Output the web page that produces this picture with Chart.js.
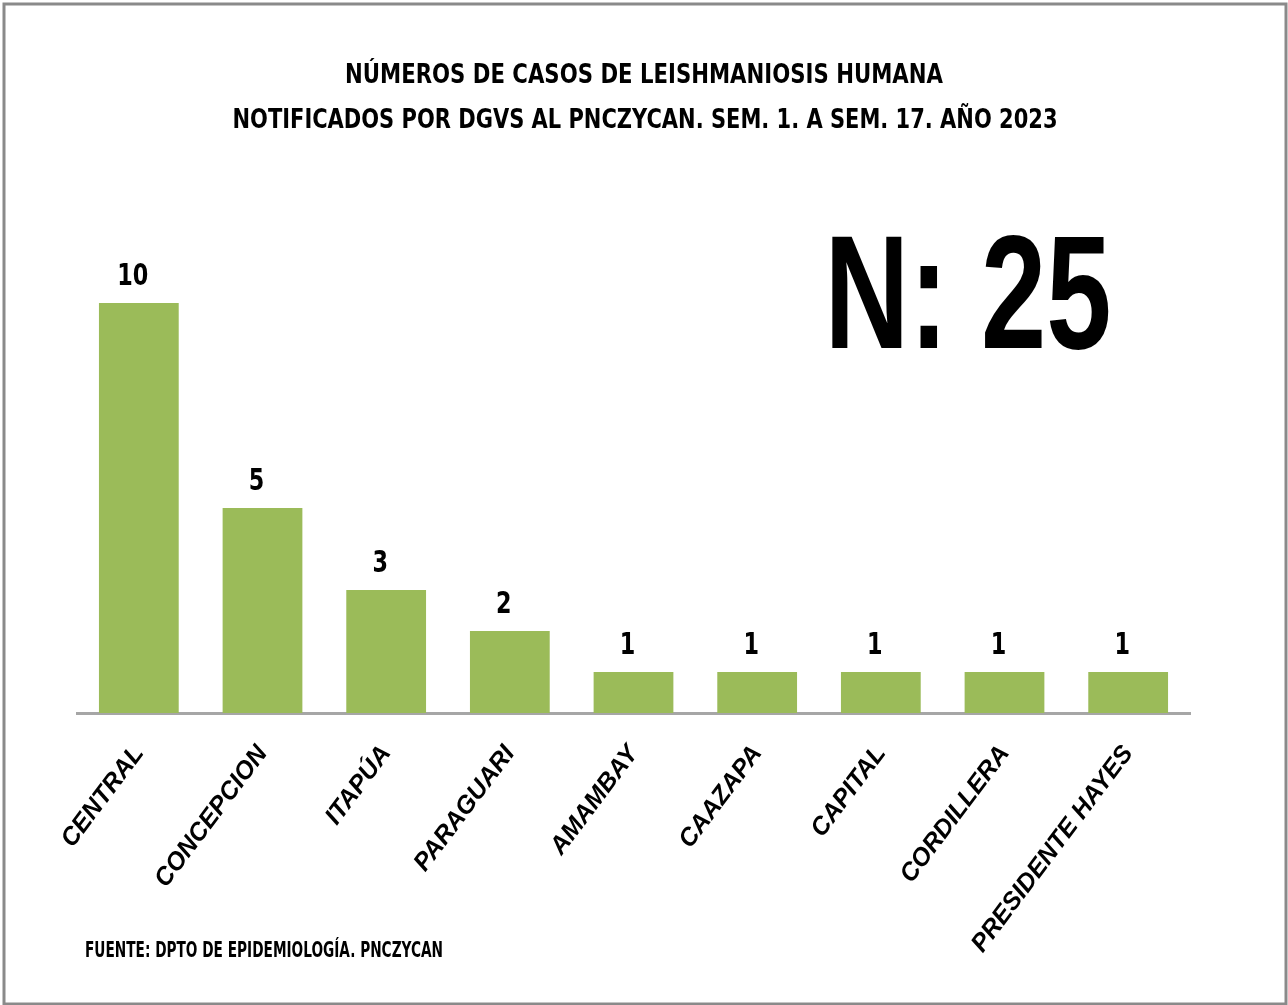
<!DOCTYPE html>
<html>
<head>
<meta charset="utf-8">
<script src="https://cdn.jsdelivr.net/npm/chart.js@4.4.0/dist/chart.umd.min.js"></script>
<style>
  html, body { margin: 0; padding: 0; background: #fff; }
  #wrap { width: 1288px; height: 1005px; position: relative; }
</style>
</head>
<body>
<div id="wrap"><canvas id="myChart" width="1288" height="1005"></canvas></div>
<script>
const categories = ['CENTRAL', 'CONCEPCION', 'ITAPÚA', 'PARAGUARI', 'AMAMBAY', 'CAAZAPA', 'CAPITAL', 'CORDILLERA', 'PRESIDENTE HAYES'];
const casos = [10, 5, 3, 2, 1, 1, 1, 1, 1];
const titleLines = ['NÚMEROS DE CASOS DE LEISHMANIOSIS HUMANA', 'NOTIFICADOS POR DGVS AL PNCZYCAN. SEM. 1. A SEM. 17. AÑO 2023'];
const totalText = 'N: 25';
const sourceText = 'FUENTE: DPTO DE EPIDEMIOLOGÍA. PNCZYCAN';

const condensed = '"DejaVu Sans Condensed", "Open Sans", sans-serif';
const arial = '"Liberation Sans", Arial, sans-serif';

// draw text squeezed horizontally so it fills a given width
function fitText(ctx, text, x, y, width, font, align) {
    ctx.save();
    ctx.font = font;
    const w = ctx.measureText(text).width;
    ctx.translate(x, y);
    ctx.scale(width / w, 1);
    ctx.textAlign = align || 'center';
    ctx.textBaseline = 'alphabetic';
    ctx.fillText(text, 0, 0);
    ctx.restore();
}

const decorPlugin = {
    id: 'decor',
    beforeDraw(chart) {
        const ctx = chart.ctx;
        ctx.save();
        ctx.fillStyle = '#fff';
        ctx.fillRect(0, 0, chart.width, chart.height);
        ctx.strokeStyle = '#8a8a8a';
        ctx.lineWidth = 3;
        ctx.strokeRect(4, 4, chart.width - 6, chart.height - 5);
        ctx.restore();
    },
    afterDraw(chart) {
        const ctx = chart.ctx;
        ctx.save();
        ctx.fillStyle = '#000';
        fitText(ctx, titleLines[0], 644, 83, 598, 'bold 27px ' + condensed);
        fitText(ctx, titleLines[1], 645, 128, 825, 'bold 27px ' + condensed);
        fitText(ctx, totalText, 968, 348, 287, 'bold 161px ' + arial);
        fitText(ctx, sourceText, 85, 957, 358, 'bold 22px ' + condensed, 'left');
        ctx.restore();

        // value labels above bars
        const meta = chart.getDatasetMeta(0);
        ctx.save();
        ctx.fillStyle = '#000';
        ctx.font = 'bold 31px ' + condensed;
        ctx.textAlign = 'center';
        ctx.textBaseline = 'alphabetic';
        meta.data.forEach((bar, i) => {
            ctx.save();
            ctx.translate(bar.x - 6, bar.y - 18);
            ctx.scale(0.8, 1);
            ctx.fillText(String(casos[i]), 0, 0);
            ctx.restore();
        });
        ctx.restore();
    }
};

new Chart(document.getElementById('myChart'), {
    type: 'bar',
    data: {
        labels: categories,
        datasets: [{
            data: casos,
            backgroundColor: '#9BBB59',
            borderWidth: 0,
            categoryPercentage: 1,
            barPercentage: 0.645
        }]
    },
    options: {
        responsive: false,
        animation: false,
        layout: { padding: { left: 77, right: 98, top: 303, bottom: 0 } },
        scales: {
            x: {
                grid: { display: false },
                border: { display: true, color: '#a6a6a6', width: 3 },
                ticks: {
                    color: '#000',
                    font: { family: arial, size: 25, weight: 'bold', style: 'italic' },
                    maxRotation: 53,
                    minRotation: 53,
                    padding: 19
                },
                afterFit(scale) { scale.height = 1005 - 713; }
            },
            y: {
                display: false,
                min: 0,
                max: 10
            }
        },
        plugins: {
            legend: { display: false },
            tooltip: { enabled: false }
        }
    },
    plugins: [decorPlugin]
});
</script>
</body>
</html>
